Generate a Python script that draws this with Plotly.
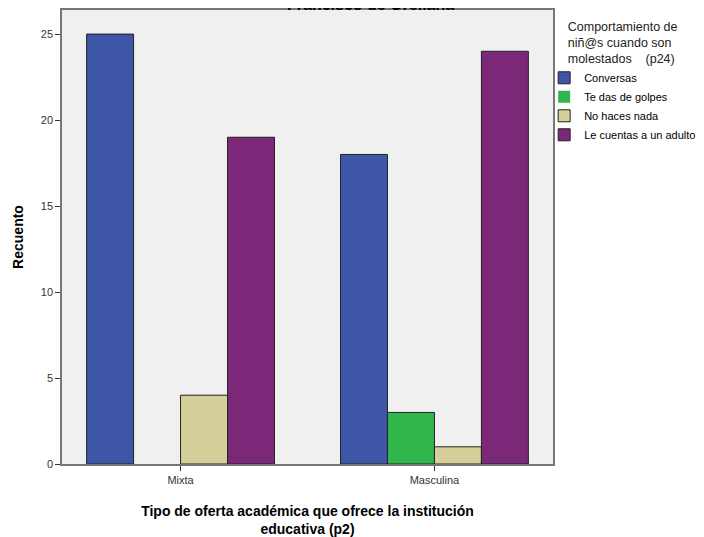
import plotly.graph_objects as go

categories = ["Mixta", "Masculina"]
series_names = ["Conversas", "Te das de golpes", "No haces nada", "Le cuentas a un adulto"]
conversas = [25, 18]
golpes = [0, 3]
nada = [4, 1]
adulto = [19, 24]
colors = ["#3D56A8", "#31B64B", "#D5D099", "#7C2878"]

values = [conversas, golpes, nada, adulto]

fig = go.Figure()
for name, vals, col in zip(series_names, values, colors):
    fig.add_trace(go.Bar(
        x=categories, y=vals, name=name,
        marker=dict(color=col, line=dict(color="#222222",
                                         width=[0 if v == 0 else 1 for v in vals])),
    ))

font = "Liberation Sans, Arial, sans-serif"
fig.update_layout(
    width=696, height=529,
    barmode="group", bargap=0.26, bargroupgap=0,
    paper_bgcolor="white", plot_bgcolor="#F0F0F0",
    margin=dict(l=54, r=151, t=2, b=73, autoexpand=False),
    font=dict(family=font, size=11, color="#222222"),
    showlegend=True,
    legend=dict(
        x=0.982, y=0.99, xanchor="left", yanchor="top",
        title=dict(text="Comportamiento de<br>niñ@s cuando son<br>molestados    (p24)",
                   side="top center", font=dict(size=12.5, color="#222222")),
        font=dict(size=11, color="#000000"),
        itemwidth=30, tracegroupgap=0,
        bgcolor="rgba(0,0,0,0)",
    ),
    xaxis=dict(
        range=[-0.467, 1.467], showline=True, mirror=True, linecolor="#777777", linewidth=1.5,
        ticks="outside", ticklen=5, tickcolor="#333333",
        tickfont=dict(size=11, color="#333333"), automargin=False,
        title=dict(text="<b>Tipo de oferta académica que ofrece la institución<br>educativa (p2)</b>",
                   font=dict(size=14, color="#000000"), standoff=27),
    ),
    yaxis=dict(
        range=[0, 26.4], tickvals=[0, 5, 10, 15, 20, 25], showgrid=False, zeroline=False,
        showline=True, mirror=True, linecolor="#777777", linewidth=1.5,
        ticks="outside", ticklen=5, tickcolor="#333333",
        tickfont=dict(size=11, color="#333333"), automargin=False,
        title=dict(text="<b>Recuento</b>", font=dict(size=14, color="#000000"), standoff=14),
    ),
    annotations=[dict(
        text="<b>Francisco de Orellana</b>", x=0.629, y=1, xref="paper", yref="paper",
        xanchor="center", yanchor="bottom", yshift=-5, showarrow=False,
        font=dict(size=16, color="#000000", family=font),
    )],
)

fig.write_html("out.html")
